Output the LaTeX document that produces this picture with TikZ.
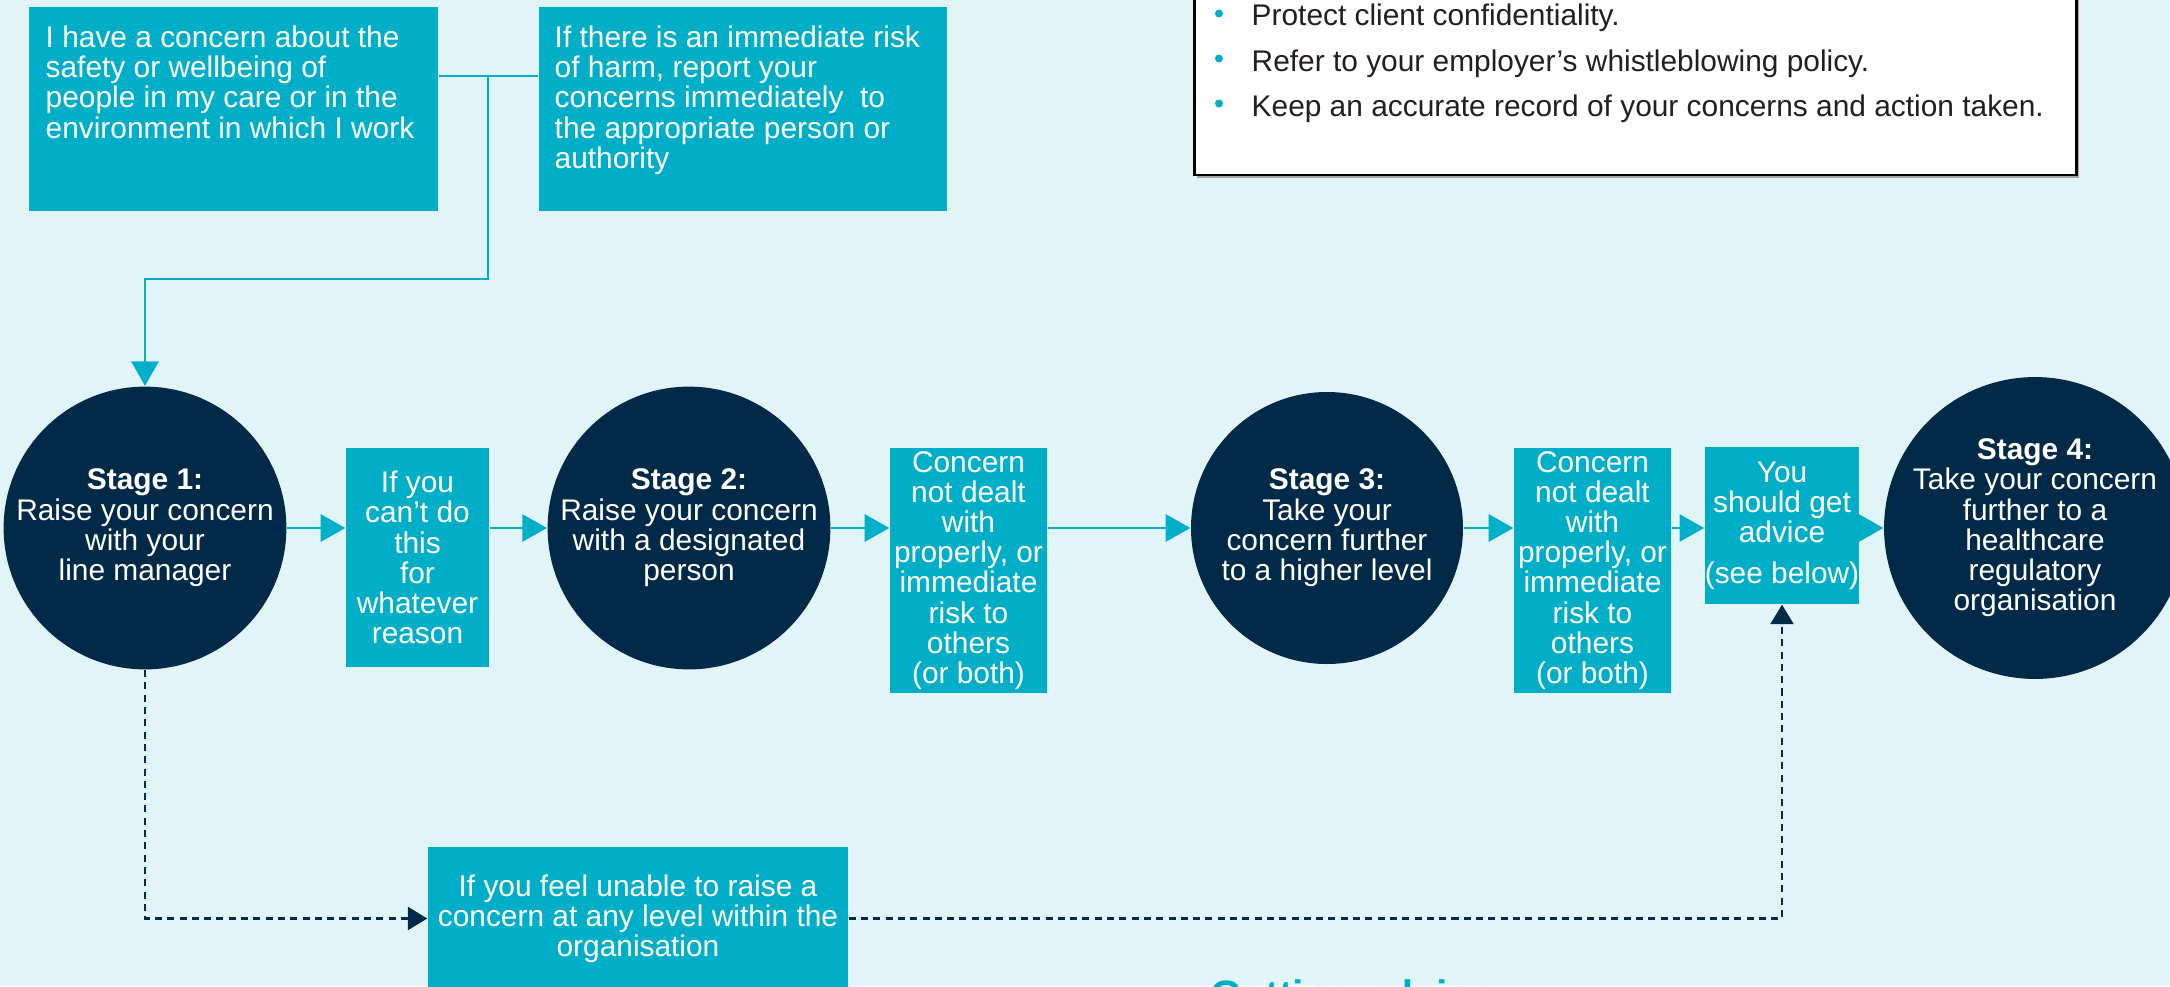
\documentclass[tikz,border=0pt]{standalone}
\usepackage{fontspec}
\setmainfont{Liberation Sans}
\usetikzlibrary{arrows.meta}

\definecolor{bgcyan}{HTML}{E1F5F9}
\definecolor{boxcyan}{HTML}{00AEC7}
\definecolor{navy}{HTML}{002A48}
\definecolor{inkgrey}{HTML}{231F20}

\begin{document}
\begin{tikzpicture}[
  every node/.style={font=\fontsize{8.5}{8.6}\selectfont},
  box/.style={fill=boxcyan, text=white, inner sep=0pt, align=center},
  boxtext/.style={anchor=north west, text=white, align=left, inner sep=0pt},
  stage/.style={circle, fill=navy, text=white, minimum size=2.72cm, inner sep=0pt, align=center},
  flow/.style={boxcyan, line width=0.8pt, -{Triangle[length=7pt,width=7.7pt]}},
  skip/.style={navy, line width=0.7pt, dash pattern=on 2pt off 1.5pt, -{Triangle[length=5.5pt,width=6.5pt]}}
]
  \useasboundingbox (0,0) rectangle (21.7,9.86);
  \fill[bgcyan] (0,0) rectangle (21.7,9.86);
  \clip (0,0) rectangle (21.7,9.86);

  \fill[gray!70] (11.97,8.08) rectangle (20.79,10.2);
  \draw[line width=0.85pt, fill=white] (11.94,8.11) rectangle (20.76,10.2);
  \fill[boxcyan] (12.19,9.725) circle (0.04);
  \fill[boxcyan] (12.19,9.275) circle (0.04);
  \fill[boxcyan] (12.19,8.825) circle (0.04);
  \node[anchor=base west, inner sep=0pt, text=inkgrey] (tip1) at (12.51,9.60) {Protect client confidentiality.};
  \node[anchor=base west, inner sep=0pt, text=inkgrey] (tip2) at (12.51,9.15) {Refer to your employer’s whistleblowing policy.};
  \node[anchor=base west, inner sep=0pt, text=inkgrey] (tip3) at (12.51,8.70) {Keep an accurate record of your concerns and action taken.};

  \node[box, minimum width=4.09cm, minimum height=2.04cm] (worry) at (2.335,8.77) {};
  \node[boxtext] (worrytxt) at (0.45,9.61) {I have a concern about the\\safety or wellbeing of\\people in my care or in the\\environment in which I work};
  \node[box, minimum width=4.08cm, minimum height=2.04cm] (risk) at (7.43,8.77) {};
  \node[boxtext] (risktxt) at (5.54,9.61) {If there is an immediate risk\\of harm, report your\\concerns immediately~ to\\the appropriate person or\\authority};

  \node[stage] (s1) at (1.45,4.58) {\textbf{Stage 1:}\\Raise your concern\\with your\\line manager};
  \node[stage] (s2) at (6.89,4.58) {\textbf{Stage 2:}\\Raise your concern\\with a designated\\person};
  \node[stage] (s3) at (13.27,4.58) {\textbf{Stage 3:}\\Take your\\concern further\\to a higher level};
  \node[stage] (s4) at (20.35,4.58) {\textbf{Stage 4:}\\Take your concern\\further to a\\healthcare\\regulatory\\organisation};

  \node[box, minimum width=1.43cm, minimum height=2.19cm] (cant) at (4.175,4.285) {If you\\can’t do\\this\\for\\whatever\\reason};
  \node[box, minimum width=1.57cm, minimum height=2.45cm] (notdealt) at (9.685,4.155) {Concern\\not dealt\\with\\properly, or\\immediate\\risk to\\others\\(or both)};
  \node[box, minimum width=1.57cm, minimum height=2.45cm] (notdealtb) at (15.925,4.155) {Concern\\not dealt\\with\\properly, or\\immediate\\risk to\\others\\(or both)};
  \node[box, minimum width=1.48cm, minimum height=1.57cm] (advice) at (17.82,4.605) {You\\should get\\advice\\[3pt](see below)};
  \node[box, minimum width=4.2cm, minimum height=1.43cm] (unable) at (6.38,0.675) {If you feel unable to raise a\\concern at any level within the\\organisation};

  \coordinate (fork) at (4.88,9.10);
  \draw[boxcyan, line width=0.8pt] (worry.east |- fork) -- (risk.west |- fork);
  \draw[flow] (fork) -- ++(0,-2.03) -| (s1.north);

  \draw[flow] (s1.east) -- (cant.west |- s1.east);
  \draw[flow] (cant.east |- s2.west) -- (s2.west);
  \draw[flow] (s2.east) -- (notdealt.west |- s2.east);
  \draw[flow] (notdealt.east |- s3.west) -- (s3.west);
  \draw[flow] (s3.east) -- (notdealtb.west |- s3.east);
  \draw[flow] (notdealtb.east |- s3.east) -- (advice.west |- s3.east);
  \draw[flow] (advice.east |- s4.west) -- (s4.west);

  \draw[skip] (s1.south) |- (unable.west);
  \draw[skip] (unable.east) -| (advice.south);

  \node[anchor=base west, inner sep=0pt, text=boxcyan, font=\fontsize{11.7}{12}\selectfont\bfseries] (getadvice) at (12.10,-0.23) {Getting advice};
\end{tikzpicture}
\end{document}
